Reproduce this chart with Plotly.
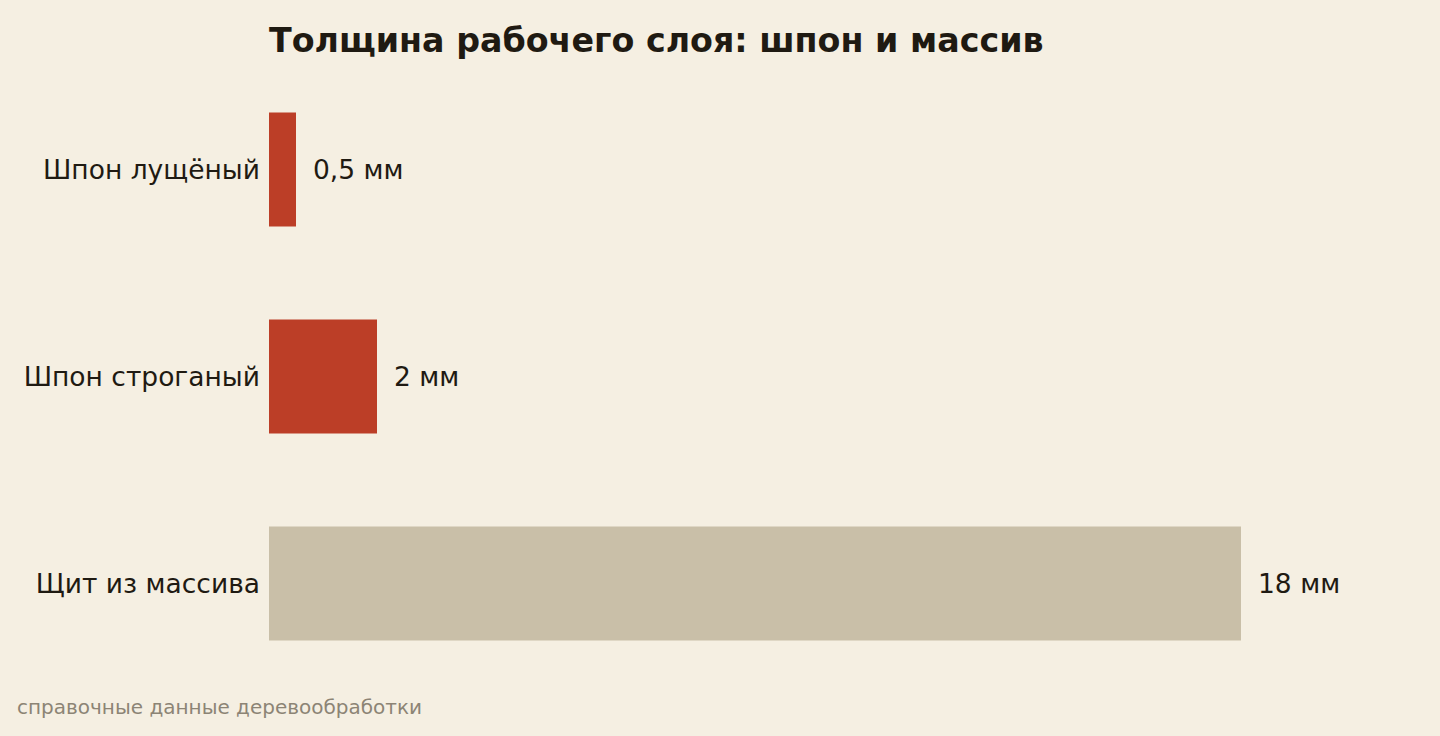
import plotly.graph_objects as go

# толщина рабочего слоя, мм
categories = ["Шпон лущёный", "Шпон строганый", "Щит из массива"]
values = [0.5, 2, 18]
value_labels = ["0,5 мм", "2 мм", "18 мм"]
bar_colors = ["#BC3E27", "#BC3E27", "#C9BFA8"]

bg = "#F5EFE2"
ink = "#1F1A12"

fig = go.Figure(go.Bar(
    y=categories,
    x=values,
    orientation="h",
    marker_color=bar_colors,
    marker_line_width=0,
    hoverinfo="skip",
))

# подписи значений справа от столбцов
for cat, val, lab in zip(categories, values, value_labels):
    fig.add_annotation(x=val, y=cat, text=lab, showarrow=False,
                       xanchor="left", xshift=15,
                       font=dict(family="DejaVu Sans", size=26.5, color=ink))

fig.add_annotation(text="справочные данные деревообработки", xref="paper", yref="paper",
                   x=-0.2352, y=-0.033, xanchor="left", yanchor="middle", showarrow=False,
                   font=dict(family="DejaVu Sans", size=20, color="#8C8475"))

fig.update_layout(
    width=1440, height=736,
    paper_bgcolor=bg, plot_bgcolor=bg,
    title=dict(text="<b>Толщина рабочего слоя: шпон и массив</b>",
               x=269/1440, xanchor="left", y=0.945, yanchor="middle",
               font=dict(family="DejaVu Sans", size=33.3, color=ink)),
    margin=dict(l=269, r=91, t=66, b=49),
    bargap=0.45,
    showlegend=False,
    font=dict(family="DejaVu Sans", color=ink),
)
fig.update_xaxes(range=[0, 20], visible=False)
fig.update_yaxes(autorange="reversed", showgrid=False, zeroline=False, showline=False,
                 ticks="", ticklabelstandoff=8, tickfont=dict(size=26.5, color=ink))

fig.write_html("out.html", config={"displayModeBar": False},
               post_script="document.body.style.margin='0';")
